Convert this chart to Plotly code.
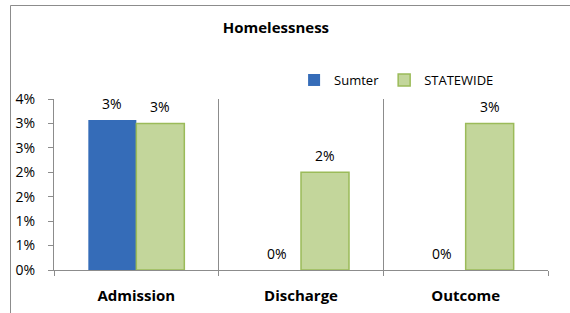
import plotly.graph_objects as go

categories = ["Admission", "Discharge", "Outcome"]
sumter = [0.0307, 0.0, 0.0]
statewide = [0.030, 0.020, 0.030]
y_tickvals = [0, 0.005, 0.010, 0.015, 0.020, 0.025, 0.030, 0.035]
y_ticktext = ["0%", "1%", "1%", "2%", "2%", "3%", "3%", "4%"]

FONT = "'Open Sans', Lato, sans-serif"
GRID = "#8c8c8c"

fig = go.Figure()
fig.add_trace(go.Bar(name="Sumter", x=categories, y=sumter,
                     marker=dict(color="#356cb8", line=dict(width=0))))
fig.add_trace(go.Bar(name="STATEWIDE", x=categories, y=statewide,
                     marker=dict(color="#c3d69b", line=dict(color="#9bbb59", width=1.5))))

annotations = []
for vals, dx in ((sumter, -24), (statewide, 24)):
    for c, v in zip(categories, vals):
        annotations.append(dict(x=c, y=v, xref="x", yref="y", text=f"{v:.0%}",
                                showarrow=False, xshift=dx, yshift=17,
                                yanchor="middle", xanchor="center",
                                font=dict(family=FONT, size=14, color="#000")))

fig.update_layout(
    width=570, height=313,
    margin=dict(l=54, r=22, t=99, b=43, autoexpand=False),
    paper_bgcolor="white", plot_bgcolor="white",
    barmode="group", bargap=0.417, bargroupgap=0,
    font=dict(family=FONT, size=13, color="#000"),
    title=dict(text="<b>Homelessness</b>", x=0.484, xanchor="center",
               y=1 - 28 / 313, yanchor="middle",
               font=dict(family=FONT, size=15, color="#000")),
    legend=dict(orientation="h", x=0.486, xanchor="left", y=1.111, yanchor="middle",
                font=dict(family=FONT, size=13), itemwidth=30,
                bgcolor="rgba(0,0,0,0)", traceorder="normal"),
    xaxis=dict(type="category", range=[-0.5, 2.5], showgrid=True, gridcolor=GRID,
               gridwidth=1, tickson="boundaries", ticks="outside", ticklen=5,
               tickcolor=GRID, showline=True, linecolor=GRID, linewidth=1,
               ticklabelstandoff=12, automargin=False,
               tickfont=dict(family=FONT, size=15, color="#000", weight="bold")),
    yaxis=dict(range=[0, 0.035], tickvals=y_tickvals, ticktext=y_ticktext,
               showgrid=False, zeroline=False, ticks="outside", ticklen=5,
               tickcolor=GRID, showline=True, linecolor=GRID, linewidth=1,
               ticklabelstandoff=10, automargin=False,
               tickfont=dict(family=FONT, size=14, color="#000")),
    annotations=annotations,
    shapes=[dict(type="rect", xref="paper", yref="paper",
                 x0=(10.5 - 54) / 494, x1=(590 - 54) / 494,
                 y0=(270 - 330) / 171, y1=(270 - 5.5) / 171,
                 line=dict(color="#8c8c8c", width=1), fillcolor="rgba(0,0,0,0)",
                 layer="above")],
)

fig.write_html("out.html", config={"displayModeBar": False},
               post_script="document.body.style.margin='0';")
